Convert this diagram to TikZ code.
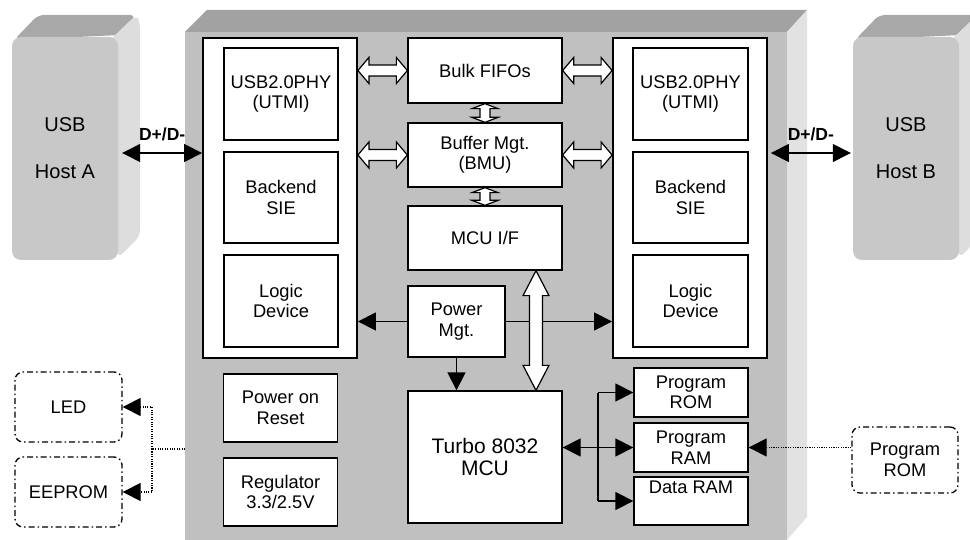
\documentclass[tikz,border=0pt]{standalone}
\usepackage{fontspec}
\setmainfont{Liberation Sans}
\usetikzlibrary{arrows.meta, calc}
\definecolor{chipface}{HTML}{C0C0C0}
\definecolor{chiptop}{HTML}{A2A2A2}
\definecolor{chipside}{HTML}{E2E2E2}
\definecolor{hostface}{HTML}{C8C8C8}
\definecolor{hosttop}{HTML}{A8A8A8}
\definecolor{hostside}{HTML}{DDDDDD}

% hollow double arrows: ends, head length, head half width, shaft half width
\newcommand{\hfat}[5]{%
  \draw[fatarrow] let \p1=(#1), \p2=(#2) in
    (\x1,\y1) -- (\x1+#3,\y1+#4) -- (\x1+#3,\y1+#5) -- (\x2-#3,\y1+#5) -- (\x2-#3,\y1+#4)
    -- (\x2,\y1) -- (\x2-#3,\y1-#4) -- (\x2-#3,\y1-#5) -- (\x1+#3,\y1-#5) -- (\x1+#3,\y1-#4) -- cycle;}
\newcommand{\vfat}[5]{%
  \draw[fatarrow] let \p1=(#1), \p2=(#2) in
    (\x1,\y1) -- (\x1+#4,\y1-#3) -- (\x1+#5,\y1-#3) -- (\x1+#5,\y2+#3) -- (\x1+#4,\y2+#3)
    -- (\x1,\y2) -- (\x1-#4,\y2+#3) -- (\x1-#5,\y2+#3) -- (\x1-#5,\y1-#3) -- (\x1-#4,\y1-#3) -- cycle;}

\begin{document}
\begin{tikzpicture}[x=1pt, y=-1pt,
  box/.style={draw, fill=white, line width=1.3pt, inner sep=0pt, align=center, font=\fontsize{18.3}{20.5}\selectfont},
  bigbox/.style={draw, fill=white, line width=1.8pt, inner sep=0pt, minimum width=154pt, minimum height=320pt},
  ext/.style={box, rounded corners=8pt, dash pattern=on 6pt off 3pt on 1.5pt off 3pt},
  host/.style={fill=hostface, rounded corners=9pt, inner sep=0pt, minimum width=106pt, minimum height=223pt, align=center, font=\fontsize{20}{22}\selectfont},
  blk/.tip={Triangle[length=18pt,width=18pt]},
  sig/.style={line width=1.3pt},
  dots/.style={line width=1.1pt, dash pattern=on 1.1pt off 1.3pt},
  fatarrow/.style={draw, fill=white, line width=1.2pt, line join=miter}]
  \useasboundingbox (0,0) rectangle (970,540);

  % USB hosts
  \foreach \hx/\hn/\hl in {0/hostA/A, 841/hostB/B} {
    \begin{scope}[xshift=\hx]
      \fill[hosttop, rounded corners=6pt] (14,40) -- (38,15) -- (136,15) -- (120,35) -- cycle;
      \fill[hostside, rounded corners=6pt] (110,40) -- (136,15) -- (140,22) -- (140,236) -- (118,258) -- cycle;
      \node[host] (\hn) at (65,148.5) {USB\\[25pt]Host \hl};
    \end{scope}
  }

  % Chip body
  \fill[chiptop] (185,32) -- (207,10) -- (807,10) -- (787,32) -- cycle;
  \fill[chipside] (787,32) -- (807,10) -- (807,517) -- (787,540) -- cycle;
  \fill[chipface] (185,32) rectangle (787,540);

  % Port blocks
  \node[bigbox] (bigL) at (280,198) {};
  \node[box, minimum width=114pt, minimum height=92pt] (phyL) at (281,94) {USB2.0PHY\\(UTMI)};
  \node[box, minimum width=114pt, minimum height=91pt] (sieL) at (281,197.5) {Backend\\SIE};
  \node[box, minimum width=114pt, minimum height=92pt] (logicL) at (281,301) {Logic\\Device};

  \node[bigbox] (bigR) at (690,198) {};
  \node[box, minimum width=115pt, minimum height=92pt] (phyR) at (690.5,94) {USB2.0PHY\\(UTMI)};
  \node[box, minimum width=115pt, minimum height=91pt] (sieR) at (690.5,197.5) {Backend\\SIE};
  \node[box, minimum width=115pt, minimum height=92pt] (logicR) at (690.5,301) {Logic\\Device};

  % Centre column
  \node[box, minimum width=154pt, minimum height=65pt] (fifo) at (485,70.5) {Bulk FIFOs};
  \node[box, minimum width=154pt, minimum height=64pt] (bmu) at (485,155) {Buffer Mgt.\\(BMU)};
  \node[box, minimum width=154pt, minimum height=64pt] (mcuif) at (485,238) {MCU I/F};
  \node[box, minimum width=97pt, minimum height=71pt] (pwr) at (456.5,321.5) {Power\\Mgt.};
  \node[box, minimum width=154pt, minimum height=132pt, font=\fontsize{21}{22.5}\selectfont] (mcu) at (485,457) {Turbo 8032\\MCU};

  % Memories
  \node[box, minimum width=114pt, minimum height=49pt] (prom) at (691,392.5) {Program\\ROM};
  \node[box, minimum width=114pt, minimum height=49pt] (pram) at (691,447.5) {Program\\RAM};
  \node[box, minimum width=114pt, minimum height=48pt] (dram) at (691,501) {Data RAM\\ \strut};

  % Power on reset, regulator
  \node[box, minimum width=114pt, minimum height=68pt] (por) at (280.5,408) {Power on\\Reset};
  \node[box, minimum width=114pt, minimum height=68pt] (reg) at (280.5,492) {Regulator\\3.3/2.5V};

  % External parts
  \node[ext, minimum width=107pt, minimum height=70pt] (led) at (68.5,407) {LED};
  \node[ext, minimum width=107pt, minimum height=70pt] (eeprom) at (68.5,492) {EEPROM};
  \node[ext, minimum width=106pt, minimum height=66pt] (extrom) at (905,460) {Program\\ROM};

  % D+/D- links
  \draw[sig, blk-blk] ([xshift=4pt,yshift=-4.5pt]hostA.east) -- ([yshift=-4.5pt]hostA.east -| bigL.west)
    node[midway, above=9pt, inner sep=2pt, font=\bfseries\fontsize{17.5}{17.5}\selectfont] {D+/D-};
  \draw[sig, blk-blk] ([xshift=3pt,yshift=-4.5pt]hostA.east -| bigR.east) -- ([xshift=-2pt,yshift=-4.5pt]hostB.west)
    node[midway, above=9pt, inner sep=2pt, font=\bfseries\fontsize{17.5}{17.5}\selectfont] {D+/D-};

  % Power distribution
  \draw[sig, -blk] (pwr.west) -- (pwr.west -| bigL.east);
  \draw[sig, -blk] (pwr.east) -- (pwr.east -| bigR.west);
  \draw[sig, -blk] (pwr.south) -- (pwr.south |- mcu.north);

  % Data paths
  \hfat{fifo.west -| bigL.east}{fifo.west}{11pt}{13pt}{5.5pt}
  \hfat{bmu.west -| bigL.east}{bmu.west}{11pt}{13pt}{5.5pt}
  \hfat{fifo.east}{fifo.east -| bigR.west}{11pt}{13pt}{5.5pt}
  \hfat{bmu.east}{bmu.east -| bigR.west}{11pt}{13pt}{5.5pt}
  \vfat{fifo.south}{bmu.north}{5pt}{13pt}{5pt}
  \vfat{bmu.south}{mcuif.north}{5pt}{13pt}{5pt}
  \vfat{[xshift=51pt]mcuif.south}{[xshift=51pt]mcu.north}{25pt}{13pt}{6.5pt}

  % Memory bus
  \coordinate (bus) at (598,449);
  \draw[sig, blk-blk] (mcu.east |- pram.west) -- (pram.west);
  \draw[sig] (bus |- prom.west) -- (bus |- dram.west);
  \draw[sig, -blk] (bus |- prom.west) -- (prom.west);
  \draw[sig, -blk] (bus |- dram.west) -- (dram.west);

  % External links
  \coordinate (chipL) at (185,449);
  \coordinate (tap) at (152,449);
  \draw[dots] (chipL) -- (tap);
  \draw[dots, -blk] (tap) |- (led.east);
  \draw[dots, -blk] (tap) |- (eeprom.east);
  \draw[dots, -blk] (pram.east -| extrom.west) -- (pram.east);
\end{tikzpicture}
\end{document}
